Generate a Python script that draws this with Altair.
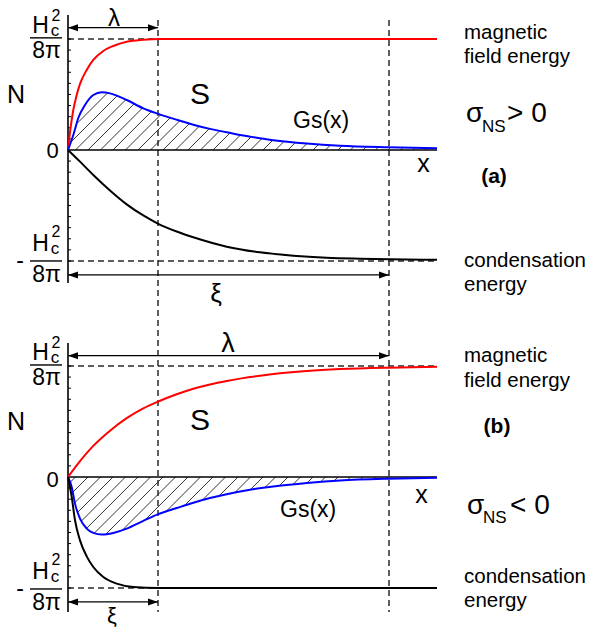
import numpy as np
import pandas as pd
import altair as alt

# x: distance from the N axis (1 unit = 10 px at this size), y: N in units of Hc^2/8pi
# ---------------- panel (a): sigma_NS > 0 ----------------
a_red_x = [0, 0.23, 0.53, 0.87, 1.2, 1.87, 2.53, 3.53, 4.53, 5.87, 7.53, 9.2, 36.9]
a_red_y = [0, 0.18, 0.36, 0.495, 0.595, 0.721, 0.811, 0.892, 0.937, 0.975, 0.993, 1.0, 1.0]

a_blue_x = [0, 0.53, 1.03, 1.7, 2.53, 3.37, 4.2, 5.87, 7.53, 9.03, 10.87, 12.53, 14.2,
            15.87, 17.2, 18.2, 20.53, 23.87, 27.2, 32.0, 36.9]
a_blue_y = [0, 0.135, 0.288, 0.405, 0.495, 0.519, 0.51, 0.45, 0.375, 0.325, 0.272, 0.228, 0.19,
            0.159, 0.135, 0.12, 0.088, 0.058, 0.038, 0.024, 0.015]

a_black_x = [0, 1.2, 2.53, 4.2, 5.87, 7.53, 9.03, 10.87, 12.53, 15.87, 19.2, 22.53, 25.87,
             29.2, 32.2, 36.9]
a_black_y = [0, -0.105, -0.225, -0.365, -0.49, -0.59, -0.665, -0.735, -0.787, -0.871, -0.922,
             -0.952, -0.97, -0.979, -0.985, -0.99]

# ---------------- panel (b): sigma_NS < 0 ----------------
b_red_x = [0, 0.87, 2.53, 4.2, 5.87, 7.53, 9.03, 10.87, 12.53, 14.2, 15.87, 17.2, 18.2, 20.53,
           23.87, 27.2, 32.03, 36.9]
b_red_y = [0, 0.105, 0.28, 0.417, 0.53, 0.618, 0.68, 0.745, 0.795, 0.834, 0.865, 0.886, 0.9,
           0.928, 0.955, 0.972, 0.985, 0.992]

b_blue_x = [0, 0.37, 0.7, 1.2, 1.87, 2.53, 3.37, 4.53, 5.87, 7.53, 9.03, 10.87, 12.53, 14.2,
            15.87, 18.2, 20.53, 23.87, 27.2, 32.03, 36.9]
b_blue_y = [0, -0.09, -0.24, -0.375, -0.465, -0.504, -0.519, -0.504, -0.465, -0.395, -0.335,
            -0.28, -0.232, -0.19, -0.155, -0.115, -0.085, -0.055, -0.032, -0.015, -0.006]

b_black_x = [0, 0.37, 0.7, 1.2, 1.87, 2.53, 3.53, 4.87, 6.53, 9.03, 36.9]
b_black_y = [0, -0.18, -0.39, -0.571, -0.715, -0.811, -0.901, -0.961, -0.991, -1.0, -1.0]

# characteristic lengths
lam_a, xi_a = 9.0, 32.1
lam_b, xi_b = 32.1, 9.0
x_end = 36.9

# ---------------- text annotations ----------------
ann_panel = ["a", "a", "a", "a", "a", "a", "a", "a", "a", "a", "a", "a", "a",
             "b", "b", "b", "b", "b", "b", "b", "b", "b", "b", "b", "b", "b"]
ann_text = ["λ", "ξ", "N", "0", "S", "Gs(x)", "x", "magnetic", "field energy", "σ", "NS", "> 0",
            "condensation",
            "λ", "ξ", "N", "0", "S", "Gs(x)", "x", "magnetic", "field energy", "σ", "NS", "< 0",
            "condensation"]
ann_x = [4.6, 14.8, -5.2, -1.55, 13.2, 22.5, 35.55, 39.6, 39.6, 39.8, 41.4, 43.9, 39.6,
         16.0, 4.4, -5.2, -1.55, 13.2, 21.2, 35.35, 39.6, 39.6, 39.9, 41.5, 44.2, 39.6]
ann_y = [1.117, -1.369, 0.423, -0.072, 0.414, 0.198, -0.198, 1.0, 0.784, 0.252, 0.162, 0.252,
         -1.054,
         1.126, -1.315, 0.423, -0.09, 0.423, -0.36, -0.234, 1.036, 0.811, -0.333, -0.414, -0.333,
         -0.955]
ann_size = [24, 26, 25, 22, 30, 23, 25, 20.5, 20.5, 28, 17, 28, 20.5,
            27, 22, 25, 22, 30, 23, 25, 20.5, 20.5, 28, 17, 28, 20.5]
ann_align = ["center", "center", "center", "center", "center", "left", "center", "left", "left",
             "left", "left", "left", "left",
             "center", "center", "center", "center", "center", "left", "center", "left", "left",
             "left", "left", "left", "left"]

energy_panel = ["a", "b"]
energy_y = [-1.27, -1.171]

label_panel = ["a", "b"]
label_text = ["(a)", "(b)"]
label_x = [42.6, 42.9]
label_y = [-0.297, 0.396]

# Hc^2/8pi fractions on the N axis
frac_panel = ["a", "a", "b", "b"]
frac_bar = [1.01, -1.0, 1.009, -1.009]
frac_neg = [False, True, False, True]

# ---------------- layout constants ----------------
W, H = 578, 620
PX_X = 10.0
PX_Y = 111.0
X_DOMAIN = [-6.0, -6.0 + W / PX_X]
Y_DOMAIN = [4.225 - H / PX_Y, 4.225]
OFFSET = {"a": 2.946, "b": 0.0}
FONT = "Liberation Sans"

# ---------------- build tables ----------------
curve_rows = []
for panel, name, color, xs, ys in [
    ("a", "red", "#ff0000", a_red_x, a_red_y),
    ("a", "blue", "#0000ff", a_blue_x, a_blue_y),
    ("a", "black", "#000000", a_black_x, a_black_y),
    ("b", "red", "#ff0000", b_red_x, b_red_y),
    ("b", "blue", "#0000ff", b_blue_x, b_blue_y),
    ("b", "black", "#000000", b_black_x, b_black_y),
]:
    for x, y in zip(xs, ys):
        curve_rows.append(dict(series=panel + name, color=color, x=x, y=y + OFFSET[panel]))
curves = pd.DataFrame(curve_rows)


def hatch_segments(xs, ys, panel, spacing=1.25):
    xs = np.asarray(xs, float)
    ys = np.asarray(ys, float)
    k = PX_X / PX_Y  # 45 degree lines on screen
    fine = np.linspace(xs[0], xs[-1], 6000)
    g = np.interp(fine, xs, ys)
    positive = ys[np.argmax(np.abs(ys))] > 0
    rows = []
    for c in np.arange(-8.0, xs[-1] + 8.0, spacing):
        yl = (fine - c) * k
        if positive:
            inside = (yl >= 0) & (yl <= g)
        else:
            inside = (yl <= 0) & (yl >= g)
        idx = np.flatnonzero(inside)
        if idx.size == 0:
            continue
        br = np.flatnonzero(np.diff(idx) > 1)
        starts = np.r_[idx[0], idx[br + 1]]
        ends = np.r_[idx[br], idx[-1]]
        for s, e in zip(starts, ends):
            if (fine[e] - fine[s]) * PX_X < 1.5:
                continue
            rows.append(dict(x=fine[s], y=yl[s] + OFFSET[panel],
                             x2=fine[e], y2=yl[e] + OFFSET[panel]))
    return rows


hatch = pd.DataFrame(hatch_segments(a_blue_x, a_blue_y, "a") +
                     hatch_segments(b_blue_x, b_blue_y, "b"))

# solid reference lines: zero lines, N axes, fraction bars
solid = pd.DataFrame([
    dict(x=0, x2=x_end, y=OFFSET["a"], y2=OFFSET["a"], w=1.5),
    dict(x=0, x2=x_end, y=OFFSET["b"], y2=OFFSET["b"], w=1.5),
    dict(x=0, x2=0, y=1.216 + OFFSET["a"], y2=-1.198 + OFFSET["a"], w=1.6),
    dict(x=0, x2=0, y=1.207 + OFFSET["b"], y2=-1.216 + OFFSET["b"], w=1.6),
] + [dict(x=-3.8, x2=-0.6, y=b + OFFSET[p], y2=b + OFFSET[p], w=1.4)
     for p, b in zip(frac_panel, frac_bar)])

# axis minor ticks
tick_vals = np.round(np.arange(-10, 11) * 0.1, 2)
ticks = pd.DataFrame([dict(x=0, x2=0.3, y=t + OFFSET[p], y2=t + OFFSET[p])
                      for p in ["a", "b"] for t in tick_vals if abs(t) > 1e-9])

# dashed guide lines
dashed = pd.DataFrame([
    dict(x=0, x2=9.5, y=1.0 + OFFSET["a"], y2=1.0 + OFFSET["a"]),
    dict(x=0, x2=x_end, y=-1.0 + OFFSET["a"], y2=-1.0 + OFFSET["a"]),
    dict(x=0, x2=x_end, y=1.0 + OFFSET["b"], y2=1.0 + OFFSET["b"]),
    dict(x=0, x2=9.5, y=-1.0 + OFFSET["b"], y2=-1.0 + OFFSET["b"]),
    dict(x=lam_a, x2=lam_a, y=4.117, y2=-1.216),
    dict(x=xi_a, x2=xi_a, y=4.117, y2=-1.216),
])

# double-headed arrows
arrows = pd.DataFrame([
    dict(x=0, x2=lam_a, y=1.102 + OFFSET["a"]),
    dict(x=0, x2=xi_a, y=-1.126 + OFFSET["a"]),
    dict(x=0, x2=lam_b, y=1.093 + OFFSET["b"]),
    dict(x=0, x2=xi_b, y=-1.126 + OFFSET["b"]),
])
arrows["y2"] = arrows["y"]
heads_left = arrows[["x", "y"]].copy()
heads_right = arrows[["x2", "y"]].rename(columns={"x2": "x"})

ann = pd.DataFrame(dict(text=ann_text, x=ann_x,
                        y=[v + OFFSET[p] for v, p in zip(ann_y, ann_panel)],
                        size=ann_size, align=ann_align))
ann = pd.concat([ann, pd.DataFrame(dict(text=["energy"] * 2, x=[39.6] * 2,
                                        y=[v + OFFSET[p] for v, p in zip(energy_y, energy_panel)],
                                        size=[20.5] * 2, align=["left"] * 2))], ignore_index=True)

frac_rows = []
for p, b, neg in zip(frac_panel, frac_bar, frac_neg):
    base = b + OFFSET[p]
    if not neg:
        frac_rows += [dict(text="H", x=-2.75, y=base + 0.045, size=23),
                      dict(text="2", x=-1.2, y=base + 0.153, size=16),
                      dict(text="c", x=-1.3, y=base + 0.018, size=17),
                      dict(text="8π", x=-2.15, y=base - 0.18, size=23)]
    else:
        frac_rows += [dict(text="H", x=-2.75, y=base + 0.09, size=23),
                      dict(text="2", x=-1.2, y=base + 0.216, size=16),
                      dict(text="c", x=-1.3, y=base + 0.063, size=17),
                      dict(text="8π", x=-2.15, y=base - 0.19, size=23),
                      dict(text="-", x=-4.8, y=base - 0.067, size=23)]
frac = pd.DataFrame(frac_rows)

labels = pd.DataFrame(dict(text=label_text, x=label_x,
                           y=[v + OFFSET[p] for v, p in zip(label_y, label_panel)]))

# ---------------- chart ----------------
xsc = alt.Scale(domain=X_DOMAIN, nice=False, zero=False)
ysc = alt.Scale(domain=Y_DOMAIN, nice=False, zero=False)


def X(f="x"):
    return alt.X(f, type="quantitative", scale=xsc, axis=None)


def Y(f="y"):
    return alt.Y(f, type="quantitative", scale=ysc, axis=None)


seg_enc = dict(x=X(), x2=alt.X2("x2"), y=Y(), y2=alt.Y2("y2"))

layers = [
    alt.Chart(hatch).mark_rule(color="#000000", strokeWidth=0.8).encode(**seg_enc),
    alt.Chart(dashed).mark_rule(color="#2a2a2a", strokeWidth=1.5, strokeDash=[6, 4]).encode(**seg_enc),
    alt.Chart(solid).mark_rule(color="#000000").encode(
        strokeWidth=alt.StrokeWidth("w:Q", scale=None), **seg_enc),
    alt.Chart(ticks).mark_rule(color="#000000", strokeWidth=1).encode(**seg_enc),
    alt.Chart(curves).mark_line(strokeWidth=2, interpolate="monotone").encode(
        x=X(), y=Y(), color=alt.Color("color:N", scale=None), detail="series:N"),
    alt.Chart(arrows).mark_rule(color="#000000", strokeWidth=1.3).encode(**seg_enc),
    alt.Chart(heads_left).mark_point(shape="M0,0L2,-0.7L2,0.7Z", filled=True, color="#000000",
                                     opacity=1, size=100, strokeWidth=0).encode(x=X(), y=Y()),
    alt.Chart(heads_right).mark_point(shape="M0,0L-2,-0.7L-2,0.7Z", filled=True, color="#000000",
                                      opacity=1, size=100, strokeWidth=0).encode(x=X(), y=Y()),
]

for al in ["center", "left"]:
    layers.append(
        alt.Chart(ann[ann["align"] == al]).mark_text(
            align=al, baseline="alphabetic", font=FONT, color="#000000").encode(
            x=X(), y=Y(), text="text:N", size=alt.Size("size:Q", scale=None)))

layers.append(
    alt.Chart(frac).mark_text(align="center", baseline="alphabetic", font=FONT,
                              color="#000000").encode(
        x=X(), y=Y(), text="text:N", size=alt.Size("size:Q", scale=None)))
layers.append(
    alt.Chart(labels).mark_text(align="center", baseline="alphabetic", font=FONT,
                                fontSize=21, fontWeight="bold", color="#000000").encode(
        x=X(), y=Y(), text="text:N"))

chart = alt.layer(*layers).properties(
    width=W, height=H, padding=0, autosize=alt.AutoSizeParams(type="none")
).configure_view(stroke=None)

chart.save("out.html", embed_options={"renderer": "svg", "actions": False})
